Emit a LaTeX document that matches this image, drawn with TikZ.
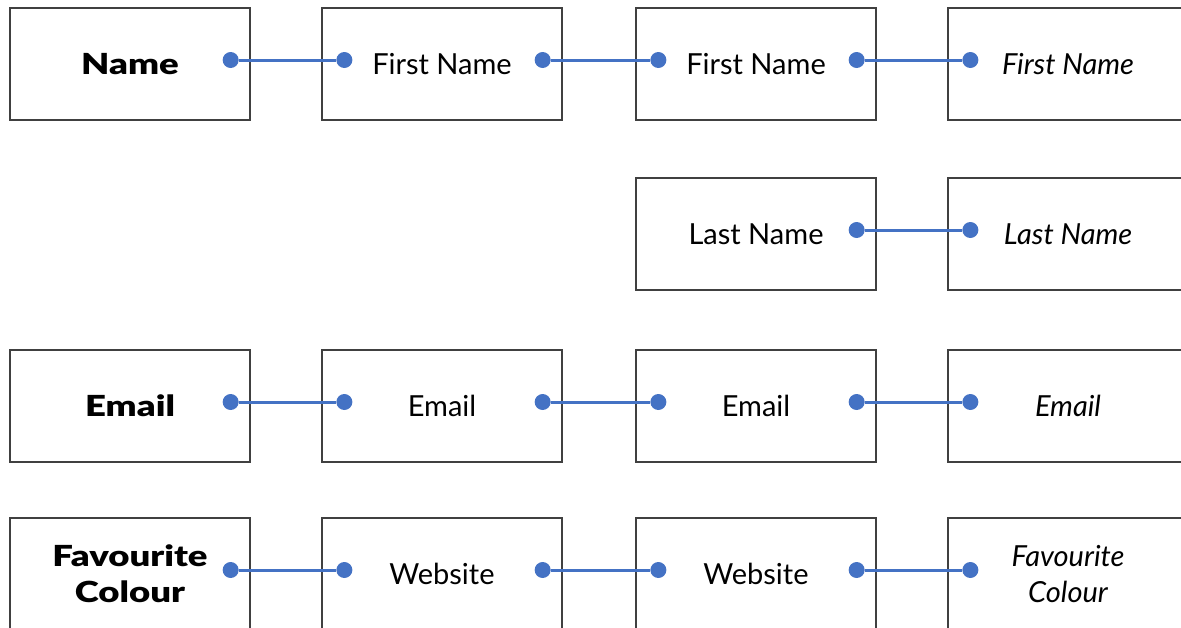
\documentclass[tikz,border=0pt]{standalone}
\usepackage{fontspec}
\setmainfont{Lato}
\newfontfamily\headfont{Lato Black}[FakeStretch=1.26]
\definecolor{linkblue}{HTML}{4472C4}
\definecolor{boxgray}{HTML}{404040}
\tikzset{
  fieldbox/.style={draw=boxgray, line width=0.65pt, minimum width=120pt,
    minimum height=56pt, inner sep=0pt, align=center,
    font=\fontsize{14.5}{18}\selectfont},
  headbox/.style={fieldbox, font=\fontsize{14.5}{18}\selectfont\headfont},
  outbox/.style={fieldbox, font=\fontsize{14.5}{18}\selectfont\itshape},
  pin/.style={circle, fill=linkblue, inner sep=0pt, minimum size=8pt},
  link/.style={linkblue, line width=1.5pt},
}
\begin{document}
\begin{tikzpicture}[x=0.5pt, y=-0.5pt]
  \useasboundingbox (0,0) rectangle (1181,627);
  % columns centred at 130/442/756/1068, rows at 64/234/406/574
  \node[headbox] (name)    at (130,64)  {Name};
  \node[fieldbox] (first)  at (442,64)  {First Name};
  \node[fieldbox] (firstB) at (756,64)  {First Name};
  \node[outbox] (firstC)   at (1068,64) {First Name};

  \node[fieldbox] (lastB)  at (756,234)  {Last Name};
  \node[outbox] (lastC)    at (1068,234) {Last Name};

  \node[headbox] (email)   at (130,406)  {Email};
  \node[fieldbox] (emailA) at (442,406)  {Email};
  \node[fieldbox] (emailB) at (756,406)  {Email};
  \node[outbox] (emailC)   at (1068,406) {Email};

  \node[headbox] (colour)  at (130,574)  {Favourite\\Colour};
  \node[fieldbox] (siteA)  at (442,574)  {Website};
  \node[fieldbox] (siteB)  at (756,574)  {Website};
  \node[outbox] (colourC)  at (1068,574) {Favourite\\Colour};

  % connector pins
  \foreach \n in {name,first,firstB,lastB,email,emailA,emailB,colour,siteA,siteB}
    \node[pin] (\n-r) at ([shift={(-20,-4)}]\n.east) {};
  \foreach \n in {first,firstB,firstC,lastC,emailA,emailB,emailC,siteA,siteB,colourC}
    \node[pin] (\n-l) at ([shift={(23,-4)}]\n.west) {};

  \foreach \a/\b in {name/first,first/firstB,firstB/firstC,lastB/lastC,
      email/emailA,emailA/emailB,emailB/emailC,colour/siteA,siteA/siteB,siteB/colourC}
    \draw[link] (\a-r) -- (\b-l);
\end{tikzpicture}
\end{document}
